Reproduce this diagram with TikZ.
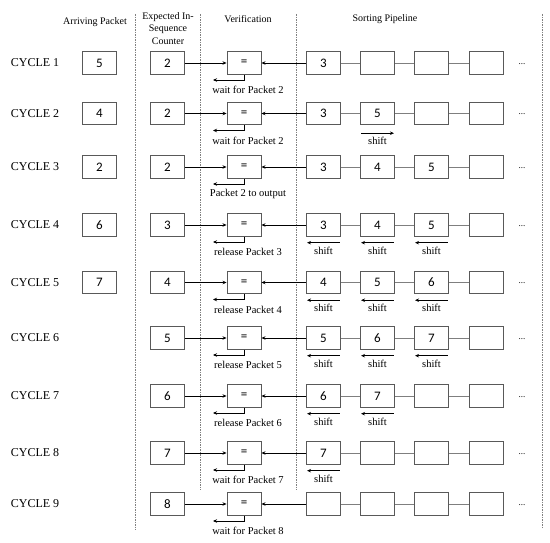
\documentclass[tikz,border=0pt]{standalone}
\usepackage{fontspec}
\setmainfont{Liberation Serif}
\newfontfamily\numfont{Carlito}
\usetikzlibrary{arrows.meta}
\definecolor{boxgray}{HTML}{595959}
\definecolor{linkgray}{HTML}{7F7F7F}
\definecolor{dashgray}{HTML}{808080}
\tikzset{
  numbox/.style={draw=boxgray,line width=0.9pt,minimum width=34pt,minimum height=22.5pt,inner sep=0pt,font=\numfont\fontsize{13}{13}\selectfont},
  cyc/.style={font=\fontsize{12}{12}\selectfont,inner sep=0pt},
  hdr/.style={font=\fontsize{10}{12.6}\selectfont,inner sep=0pt,align=center},
  lbl/.style={font=\fontsize{10.5}{11}\selectfont,inner sep=0pt},
  dotsnode/.style={font=\fontsize{9}{9}\selectfont,inner sep=0pt,anchor=base},
  link/.style={draw=linkgray,line width=0.8pt},
  arr/.style={draw=black,line width=0.9pt,-{Stealth[length=4pt,width=3.5pt]}},
  sepline/.style={draw=dashgray,line width=0.6pt,dash pattern=on 1.5pt off 1pt}
}
\newcommand{\cyclerow}[7]{%
  \node[cyc] (c#1) at (35,#2) {CYCLE #1};
  \node[numbox] (e#1) at (167.5,#2) {#3};
  \node[numbox] (v#1) at (244,#2) {=};
  \node[numbox] (p#1a) at (323.5,#2) {#4};
  \node[numbox] (p#1b) at (377.5,#2) {#5};
  \node[numbox] (p#1c) at (431.5,#2) {#6};
  \node[numbox] (p#1d) at (486.5,#2) {};
  \node[dotsnode] (d#1) at (522,{#2+1}) {...};
  \draw[link] (p#1a) -- (p#1b);
  \draw[link] (p#1b) -- (p#1c);
  \draw[link] (p#1c) -- (p#1d);
  \draw[arr] (e#1) -- (v#1);
  \draw[arr] (p#1a) -- (v#1);
  \coordinate (o#1) at (244,{#2+17});
  \coordinate (t#1) at (213,{#2+17});
  \draw[arr] (v#1.south) -- (o#1) -- (t#1);
  \node[lbl] (l#1) at (248,{#2+27}) {#7};
}
\newcommand{\shiftleft}[1]{%
  \draw[arr] ([xshift=-1pt,yshift=-6pt]#1.south east) -- ([xshift=1pt,yshift=-6pt]#1.south west);
  \node[lbl] (s#1) at ([yshift=-14pt]#1.south) {shift};
}
\begin{document}
\begin{tikzpicture}[x=1pt,y=-1pt]
\useasboundingbox (0,0) rectangle (550,542);
% separators
\draw[sepline] (135,14) -- (135,530);
\draw[sepline] (200,14) -- (200,490);
\draw[sepline] (296,14) -- (296,490);
\draw[sepline] (542,14) -- (542,527);
% headers
\node[hdr] (h1) at (95,22) {Arriving Packet};
\node[hdr] (h2) at (168,28.5) {Expected In-\\Sequence\\Counter};
\node[hdr] (h3) at (248,19.5) {Verification};
\node[hdr] (h4) at (385,19.5) {Sorting Pipeline};
% rows
\cyclerow{1}{63}{2}{3}{}{}{wait for Packet 2}
\cyclerow{2}{113.5}{2}{3}{5}{}{wait for Packet 2}
\cyclerow{3}{167}{2}{3}{4}{5}{Packet 2 to output}
\cyclerow{4}{225}{3}{3}{4}{5}{release Packet 3}
\cyclerow{5}{282.5}{4}{4}{5}{6}{release Packet 4}
\cyclerow{6}{338}{5}{5}{6}{7}{release Packet 5}
\cyclerow{7}{396}{6}{6}{7}{}{release Packet 6}
\cyclerow{8}{453}{7}{7}{}{}{wait for Packet 7}
\cyclerow{9}{504}{8}{}{}{}{wait for Packet 8}
% arriving packets
\node[numbox] (a1) at (99.5,63) {5};
\node[numbox] (a2) at (99.5,113.5) {4};
\node[numbox] (a3) at (99.5,167) {2};
\node[numbox] (a4) at (99.5,225) {6};
\node[numbox] (a5) at (99.5,282.5) {7};
% shifts
\draw[arr] ([xshift=1pt,yshift=-8pt]p2b.south west) -- ([xshift=-1pt,yshift=-8pt]p2b.south east);
\node[lbl] (s2b) at ([yshift=-16pt]p2b.south) {shift};
\shiftleft{p4a}\shiftleft{p4b}\shiftleft{p4c}
\shiftleft{p5a}\shiftleft{p5b}\shiftleft{p5c}
\shiftleft{p6a}\shiftleft{p6b}\shiftleft{p6c}
\shiftleft{p7a}\shiftleft{p7b}
\shiftleft{p8a}
\end{tikzpicture}
\end{document}
